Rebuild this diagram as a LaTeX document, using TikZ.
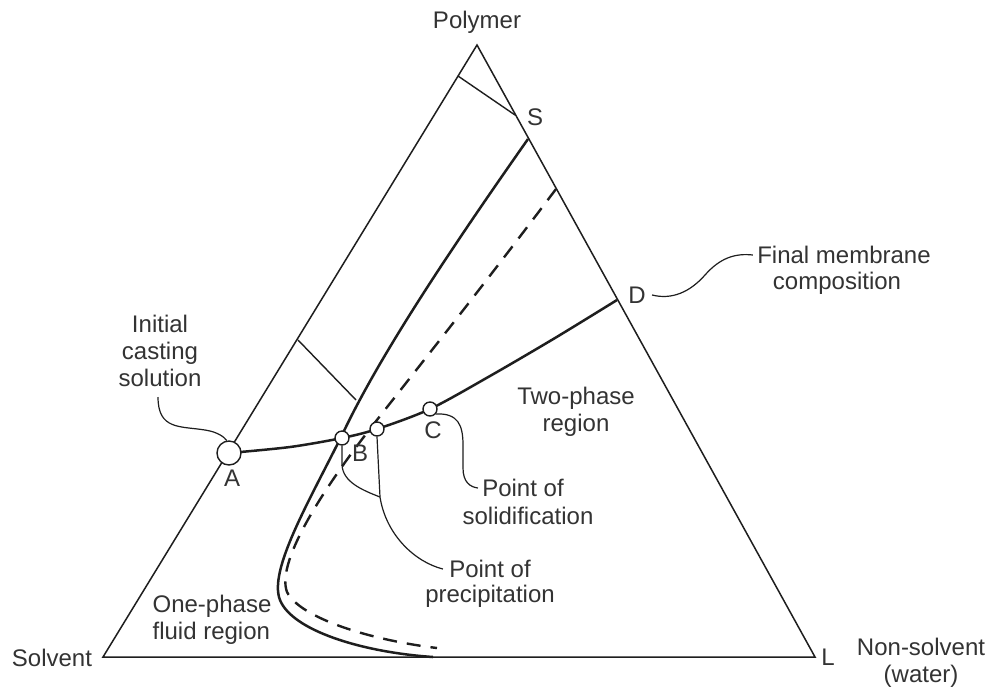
\documentclass[tikz,border=0pt]{standalone}
\usepackage{fontspec}
\setmainfont{Liberation Sans}
\definecolor{ln}{HTML}{1E1E1E}
\definecolor{txt}{HTML}{333333}
\begin{document}
\begin{tikzpicture}[x=0.5pt,y=-0.5pt,
  lbl/.style={font=\fontsize{12}{13.5}\selectfont, text=txt, inner sep=0pt, align=center},
  edgeline/.style={line width=0.75pt, draw=ln, line join=miter},
  tieline/.style={line width=0.7pt, draw=ln},
  curveline/.style={line width=1.25pt, draw=ln},
  dashcurve/.style={line width=1.2pt, draw=ln, dash pattern=on 7pt off 5pt},
  leader/.style={line width=0.6pt, draw=ln},
  ptc/.style={circle, draw=ln, line width=0.7pt, fill=white, inner sep=0pt, minimum size=#1},
]
\useasboundingbox (0,0) rectangle (988,686);
\fill[white] (0,0) rectangle (988,686);

% triangle
\coordinate (P) at (477,45);
\coordinate (V) at (103,657);
\coordinate (Lv) at (815,657);
\draw[edgeline] (P) -- (V) -- (Lv) -- cycle;

% tie lines
\coordinate (t1a) at (458,76);
\coordinate (t1b) at (515,115);
\draw[tieline] (t1a) -- (t1b);
\coordinate (t2a) at (298,340);
\coordinate (t2b) at (356,400);
\draw[tieline] (t2a) -- (t2b);

% binodal (solid)
\draw[curveline] (528,139) .. controls (450,250) and (380,355) .. (343,433)
  .. controls (310,500) and (268,570) .. (280,600)
  .. controls (292,630) and (360,652) .. (433,657);

% dashed curve
\draw[dashcurve] (556,189) .. controls (480,290) and (420,365) .. (373,425)
  .. controls (330,480) and (275,560) .. (287,592)
  .. controls (300,618) and (370,640) .. (437,648);

% composition path
\coordinate (D) at (617,300);
\draw[curveline] plot[smooth, tension=0.5] coordinates {(229,453) (290,447) (342,438) (377,429) (430,409) (490,376) (555,338) (617,300)};

% points
\node[ptc=12pt] (A) at (229,453) {};
\node[ptc=7pt] (B) at (342,438) {};
\node[ptc=7pt] (Pp) at (377,429) {};
\node[ptc=7pt] (C) at (430,409) {};

% labels
\node[lbl] (poly) at (477,22) {Polymer};
\node[lbl] (Slbl) at (535,117) {S};
\node[lbl] (Dlbl) at (637,295) {D};
\node[lbl] (Llbl) at (828,657) {L};
\node[lbl] (Albl) at (232,478) {A};
\node[lbl] (Blbl) at (360,453) {B};
\node[lbl] (Clbl) at (433,430) {C};
\node[lbl] (solv) at (52,658) {Solvent};
\node[lbl] (ns) at (921,663) {Non-solvent\\(water)};
\node[lbl] (ics) at (160,351) {Initial\\casting\\solution};
\node[lbl] (fm1) at (844,255) {Final membrane};
\node[lbl] (fm2) at (837,283) {composition};
\node[lbl] (pos1) at (523,488) {Point of};
\node[lbl] (pos2) at (528,516) {solidification};
\node[lbl] (pop1) at (490,569) {Point of};
\node[lbl] (pop2) at (490,596) {precipitation};
\node[lbl] (tpr) at (576,412) {Two-phase\\region};
\node[lbl, align=left] (opf) at (212,620) {One-phase\\fluid region};

% leaders
\draw[leader] (158,397) .. controls (158,430) and (180,426) .. (205,430) .. controls (218,432) and (224,437) .. (A.100);
\draw[leader] (C.-40) .. controls (458,413) and (463,425) .. (463,445) -- (463,468) .. controls (463,482) and (470,487) .. ([xshift=-2pt]pos1.west);
\coordinate (J) at (380,497);
\draw[leader] ([xshift=-3pt]pop1.west) .. controls (415,562) and (386,535) .. (J) -- (Pp.south);
\draw[leader] (J) .. controls (362,490) and (343,482) .. (342,465) -- (B.south);
\draw[leader] ([xshift=3pt]Dlbl.east) .. controls (672,300) and (690,292) .. (705,275) .. controls (720,258) and (735,253) .. ([xshift=-2pt]fm1.west);
\end{tikzpicture}
\end{document}
